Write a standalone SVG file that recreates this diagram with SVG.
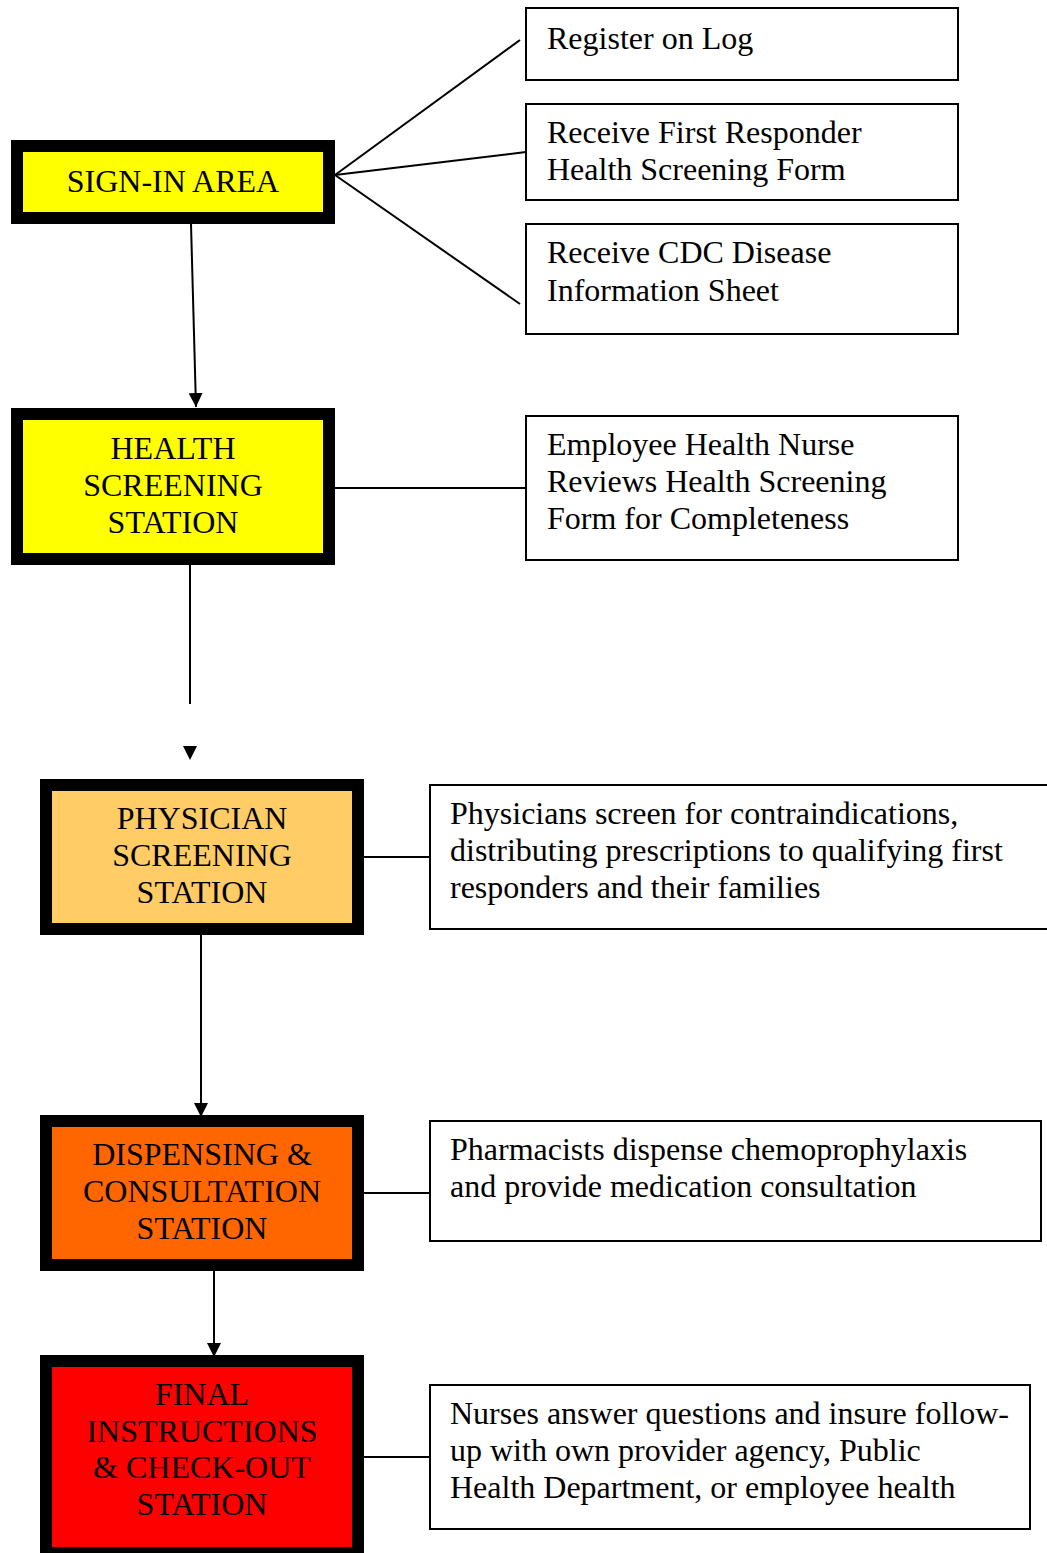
<svg xmlns="http://www.w3.org/2000/svg" width="1047" height="1553" viewBox="0 0 1047 1553">
<style>
.st{stroke:#000;stroke-width:12}
.nb{fill:#fff;stroke:#000;stroke-width:2}
.c{stroke:#000;stroke-width:2;fill:none}
text{font-family:"Liberation Serif","Times New Roman",serif;font-size:32px;fill:#000}
.m{text-anchor:middle}
</style>
<defs>
<marker id="ah" markerWidth="14" markerHeight="14" refX="14" refY="7" orient="auto" markerUnits="userSpaceOnUse">
<path d="M0,0 L14,7 L0,14 Z" fill="#000"/>
</marker>
</defs>
<rect width="1047" height="1553" fill="#fff"/>
<g id="connectors">
<line class="c" x1="335" y1="175" x2="520" y2="40"/>
<line class="c" x1="335" y1="175" x2="526" y2="152"/>
<line class="c" x1="335" y1="175" x2="520" y2="304"/>
<line class="c" x1="191" y1="224" x2="196" y2="407" marker-end="url(#ah)"/>
<line class="c" x1="190" y1="565" x2="190" y2="704"/>
<polygon points="183,746 197,746 190,760" fill="#000"/>
<line class="c" x1="335" y1="488" x2="526" y2="488"/>
<line class="c" x1="201" y1="935" x2="201" y2="1117" marker-end="url(#ah)"/>
<line class="c" x1="364" y1="857" x2="430" y2="857"/>
<line class="c" x1="214" y1="1271" x2="214" y2="1357" marker-end="url(#ah)"/>
<line class="c" x1="364" y1="1193" x2="430" y2="1193"/>
<line class="c" x1="364" y1="1457" x2="430" y2="1457"/>
</g>
<g id="signin">
<rect class="st" x="17" y="146" width="312" height="72" fill="#ffff00"/>
<text class="m" x="173" y="192">SIGN-IN AREA</text>
</g>
<g id="register">
<rect class="nb" x="526" y="8" width="432" height="72"/>
<text x="547" y="49">Register on Log</text>
</g>
<g id="firstresponder">
<rect class="nb" x="526" y="104" width="432" height="96"/>
<text x="547" y="143">Receive First Responder</text>
<text x="547" y="180">Health Screening Form</text>
</g>
<g id="cdc">
<rect class="nb" x="526" y="224" width="432" height="110"/>
<text x="547" y="263">Receive CDC Disease</text>
<text x="547" y="301">Information Sheet</text>
</g>
<g id="health">
<rect class="st" x="17" y="414" width="312" height="145" fill="#ffff00"/>
<text class="m" x="173" y="459">HEALTH</text>
<text class="m" x="173" y="496">SCREENING</text>
<text class="m" x="173" y="533">STATION</text>
</g>
<g id="nurse">
<rect class="nb" x="526" y="416" width="432" height="144"/>
<text x="547" y="455">Employee Health Nurse</text>
<text x="547" y="492">Reviews Health Screening</text>
<text x="547" y="529">Form for Completeness</text>
</g>
<g id="physician">
<rect class="st" x="46" y="785" width="312" height="144" fill="#ffcc66"/>
<text class="m" x="202" y="829">PHYSICIAN</text>
<text class="m" x="202" y="866">SCREENING</text>
<text class="m" x="202" y="903">STATION</text>
</g>
<g id="physicians-note">
<rect class="nb" x="430" y="785" width="618" height="144"/>
<text x="450" y="824">Physicians screen for contraindications,</text>
<text x="450" y="861">distributing prescriptions to qualifying first</text>
<text x="450" y="898">responders and their families</text>
</g>
<g id="dispensing">
<rect class="st" x="46" y="1121" width="312" height="144" fill="#ff6600"/>
<text class="m" x="202" y="1165">DISPENSING &amp;</text>
<text class="m" x="202" y="1202">CONSULTATION</text>
<text class="m" x="202" y="1239">STATION</text>
</g>
<g id="pharmacists">
<rect class="nb" x="430" y="1121" width="611" height="120"/>
<text x="450" y="1160">Pharmacists dispense chemoprophylaxis</text>
<text x="450" y="1197">and provide medication consultation</text>
</g>
<g id="final">
<rect class="st" x="46" y="1361" width="312" height="192" fill="#ff0000"/>
<text class="m" x="202" y="1405">FINAL</text>
<text class="m" x="202" y="1442">INSTRUCTIONS</text>
<text class="m" x="202" y="1478">&amp; CHECK-OUT</text>
<text class="m" x="202" y="1515">STATION</text>
</g>
<g id="nurses">
<rect class="nb" x="430" y="1385" width="600" height="144"/>
<text x="450" y="1424">Nurses answer questions and insure follow-</text>
<text x="450" y="1461">up with own provider agency, Public</text>
<text x="450" y="1498">Health Department, or employee health</text>
</g>
</svg>
